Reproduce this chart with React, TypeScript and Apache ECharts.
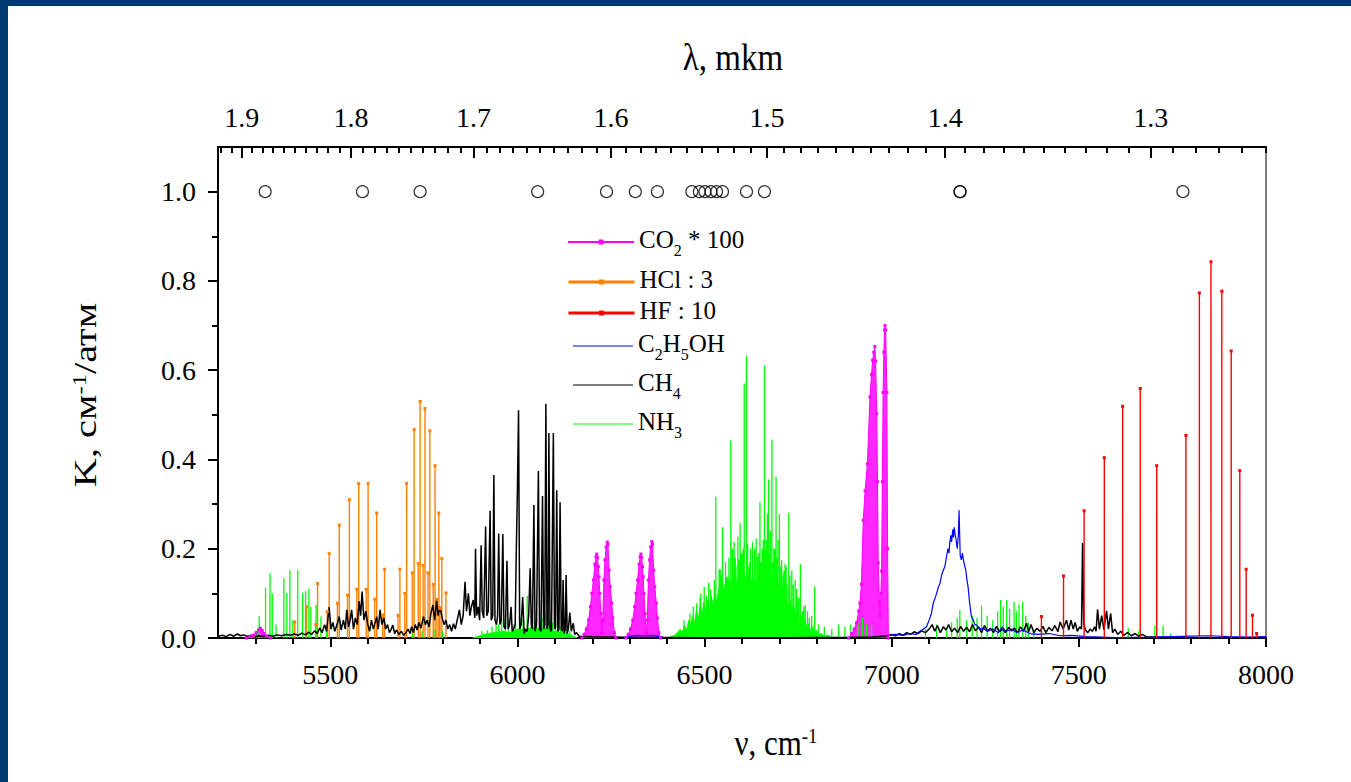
import React, { useEffect, useRef } from 'react';
import * as echarts from 'echarts';

const FONT = '"Liberation Serif", "Times New Roman", serif';

// ---- axis ticks ----
const xMajorTicks = [5500, 6000, 6500, 7000, 7500, 8000];
const xMinorTicks = [5300, 5400, 5600, 5700, 5800, 5900, 6100, 6200, 6300, 6400, 6600, 6700, 6800, 6900, 7100, 7200, 7300, 7400, 7600, 7700, 7800, 7900];
const yMajorTicks = [0, 0.2, 0.4, 0.6, 0.8, 1.0];
const yMinorTicks = [0.1, 0.3, 0.5, 0.7, 0.9];
const lambdaMajor = [1.9, 1.8, 1.7, 1.6, 1.5, 1.4, 1.3];
const lambdaMinor: number[] = [];
for (let i = 125; i <= 192; i++) if (i % 10 !== 0) lambdaMinor.push(i / 100);

// ---- data (ν, cm-1 ; K) ----
const hclLines = [
  [5405, 0.036], [5437, 0.07], [5466, 0.122], [5497, 0.189], [5524, 0.253], [5551, 0.31], [5576, 0.346],
  [5601, 0.346], [5624, 0.28], [5645, 0.154], [5686, 0.154], [5704, 0.346], [5724, 0.467], [5740, 0.53],
  [5753, 0.514], [5766, 0.464], [5780, 0.386], [5790, 0.28], [5798, 0.178], [5809, 0.101],
];
const hclIsoLines = [
  [5461, 0.03], [5492, 0.059], [5519, 0.078], [5546, 0.096], [5571, 0.109], [5596, 0.109], [5619, 0.087],
  [5640, 0.051], [5681, 0.051], [5699, 0.1], [5719, 0.146], [5735, 0.167], [5748, 0.163], [5761, 0.146],
  [5775, 0.12], [5785, 0.087], [5793, 0.066],
];
const hfLines = [
  [7400, 0.048], [7459, 0.139], [7514, 0.285], [7568, 0.404], [7617, 0.519], [7664, 0.559], [7708, 0.386],
  [7786, 0.454], [7822, 0.773], [7853, 0.843], [7882, 0.777], [7907, 0.643], [7930, 0.375], [7947, 0.154],
  [7964, 0.051], [7975, 0.01],
];
const co2Band0 = [[5275, 0], [5285, 0.003], [5295, 0.006], [5302, 0.012], [5308, 0.018], [5313, 0.022], [5318, 0.017], [5323, 0.01], [5330, 0.004], [5340, 0]];
const co2Band1 = [[6172, 0], [6178, 0.008], [6184, 0.02], [6190, 0.04], [6195, 0.07], [6199, 0.1], [6203, 0.13], [6207, 0.165], [6210, 0.182], [6212, 0.188], [6214, 0.18], [6216, 0.16], [6218, 0.137], [6220, 0.1], [6223, 0.055], [6226, 0.01], [6228, 0.04], [6231, 0.13], [6234, 0.175], [6237, 0.204], [6240, 0.215], [6242, 0.21], [6245, 0.152], [6248, 0.115], [6252, 0.078], [6255, 0.045], [6259, 0.012], [6263, 0]];
const co2Band2 = [[6290, 0], [6296, 0.008], [6302, 0.02], [6308, 0.04], [6313, 0.07], [6317, 0.1], [6321, 0.13], [6325, 0.165], [6328, 0.182], [6330, 0.188], [6332, 0.18], [6334, 0.16], [6336, 0.137], [6338, 0.1], [6341, 0.055], [6344, 0.01], [6347, 0.04], [6350, 0.13], [6353, 0.175], [6356, 0.204], [6359, 0.216], [6361, 0.21], [6364, 0.152], [6367, 0.115], [6371, 0.078], [6374, 0.045], [6378, 0.012], [6382, 0]];
const co2Band3 = [[6885, 0], [6893, 0.01], [6900, 0.02], [6906, 0.034], [6912, 0.06], [6915, 0.078], [6919, 0.12], [6924, 0.264], [6929, 0.33], [6935, 0.39], [6942, 0.54], [6946, 0.59], [6949, 0.622], [6952, 0.64], [6955, 0.653], [6957, 0.62], [6960, 0.503], [6962, 0.35], [6964, 0.168], [6967, 0.08], [6969, 0.05], [6971, 0.1], [6973, 0.15], [6975, 0.35], [6977, 0.55], [6979, 0.64], [6981, 0.69], [6982, 0.7], [6984, 0.69], [6987, 0.55], [6989, 0.2], [6991, 0]];
const c2h5ohSeg0 = [[6280, 0], [6300, 0.004], [6320, 0.006], [6340, 0.005], [6360, 0.006], [6380, 0.003], [6400, 0]];
const c2h5ohSeg1 = [
  [6990, 0.005], [7010, 0.008], [7030, 0.006], [7050, 0.01], [7065, 0.008], [7075, 0.015], [7085, 0.02], [7093, 0.025],
  [7100, 0.04], [7106, 0.055], [7111, 0.078], [7116, 0.09], [7120, 0.1], [7125, 0.115], [7129, 0.122], [7133, 0.14],
  [7137, 0.15], [7142, 0.16], [7146, 0.18], [7150, 0.2], [7153, 0.19], [7155, 0.212], [7158, 0.23], [7160, 0.215],
  [7163, 0.243], [7165, 0.225], [7167, 0.248], [7169, 0.234], [7172, 0.22], [7175, 0.2], [7178, 0.23], [7180, 0.286],
  [7181, 0.25], [7183, 0.185], [7186, 0.175], [7189, 0.19], [7191, 0.178], [7194, 0.165], [7198, 0.152], [7201, 0.13],
  [7204, 0.115], [7208, 0.08], [7213, 0.048], [7218, 0.04], [7222, 0.03], [7227, 0.029], [7235, 0.02], [7245, 0.022],
  [7255, 0.015], [7270, 0.02], [7285, 0.012], [7295, 0.025], [7305, 0.015], [7320, 0.02], [7335, 0.012], [7350, 0.018],
  [7370, 0.01], [7390, 0.008], [7420, 0.01], [7450, 0.005], [7480, 0.006], [7520, 0.003], [7560, 0.002], [7600, 0.001],
  [7700, 0.002], [7800, 0.004], [7850, 0.005], [7900, 0.003], [7950, 0.002], [8000, 0.003],
];
const ch4 = [
  [5200, 0.004], [5212, 0.006], [5222, 0.003], [5232, 0.008], [5242, 0.004], [5252, 0.009], [5260, 0.005], [5268, 0.007],
  [5278, 0.004], [5288, 0.006], [5298, 0.003], [5310, 0.005], [5322, 0.004], [5334, 0.006], [5346, 0.004], [5358, 0.007],
  [5370, 0.005], [5382, 0.008], [5394, 0.006], [5404, 0.009], [5414, 0.006], [5424, 0.011], [5434, 0.007], [5442, 0.013],
  [5450, 0.008], [5458, 0.016], [5465, 0.01], [5472, 0.022], [5478, 0.012], [5485, 0.03], [5490, 0.015], [5497, 0.069],
  [5502, 0.02], [5507, 0.035], [5512, 0.015], [5518, 0.03], [5524, 0.048], [5529, 0.018], [5535, 0.04], [5540, 0.02],
  [5544, 0.063], [5549, 0.025], [5553, 0.04], [5557, 0.063], [5562, 0.02], [5567, 0.045], [5572, 0.03], [5577, 0.083],
  [5581, 0.05], [5585, 0.104], [5590, 0.04], [5595, 0.06], [5600, 0.031], [5605, 0.015], [5610, 0.04], [5615, 0.02],
  [5620, 0.035], [5624, 0.048], [5628, 0.02], [5633, 0.063], [5638, 0.03], [5643, 0.045], [5648, 0.02], [5653, 0.03],
  [5658, 0.012], [5663, 0.02], [5667, 0.029], [5672, 0.01], [5677, 0.018], [5683, 0.008], [5690, 0.015], [5696, 0.006],
  [5702, 0.012], [5708, 0.02], [5713, 0.01], [5717, 0.025], [5722, 0.012], [5727, 0.03], [5732, 0.018], [5737, 0.035],
  [5742, 0.022], [5749, 0.048], [5754, 0.03], [5759, 0.04], [5764, 0.025], [5769, 0.055], [5774, 0.074], [5779, 0.04],
  [5784, 0.085], [5788, 0.05], [5793, 0.07], [5799, 0.045], [5804, 0.03], [5809, 0.04], [5814, 0.02], [5819, 0.03],
  [5824, 0.015], [5829, 0.032], [5834, 0.02], [5839, 0.04], [5845, 0.063], [5850, 0.03], [5855, 0.05], [5860, 0.126],
  [5864, 0.06], [5869, 0.1], [5873, 0.05], [5877, 0.07], [5882, 0.085], [5886, 0.045], [5888, 0.2], [5891, 0.05],
  [5895, 0.07], [5899, 0.04], [5903, 0.208], [5906, 0.06], [5910, 0.045], [5915, 0.25], [5918, 0.05], [5922, 0.06],
  [5927, 0.285], [5930, 0.04], [5934, 0.05], [5937, 0.365], [5940, 0.04], [5944, 0.03], [5947, 0.05], [5950, 0.234],
  [5953, 0.03], [5957, 0.04], [5961, 0.233], [5964, 0.025], [5968, 0.02], [5972, 0.173], [5975, 0.02], [5979, 0.03],
  [5983, 0.07], [5986, 0.015], [5990, 0.02], [5994, 0.03], [5997, 0.197], [6000, 0.335], [6003, 0.51], [6006, 0.02],
  [6010, 0.03], [6014, 0.092], [6018, 0.01], [6022, 0.02], [6026, 0.015], [6030, 0.05], [6034, 0.156], [6037, 0.03],
  [6040, 0.02], [6044, 0.298], [6047, 0.015], [6051, 0.03], [6056, 0.374], [6059, 0.02], [6063, 0.015], [6067, 0.318],
  [6070, 0.02], [6073, 0.03], [6076, 0.525], [6079, 0.02], [6082, 0.03], [6084, 0.459], [6087, 0.02], [6091, 0.015],
  [6096, 0.459], [6099, 0.02], [6102, 0.025], [6105, 0.331], [6108, 0.015], [6111, 0.02], [6114, 0.304], [6117, 0.02],
  [6120, 0.015], [6122, 0.13], [6125, 0.01], [6128, 0.02], [6130, 0.141], [6133, 0.01], [6136, 0.02], [6140, 0.057],
  [6144, 0.015], [6149, 0.033], [6153, 0.008], [6158, 0.012], [6165, 0.004], [6200, 0.003], [6260, 0.002], [6320, 0.001],
  [6400, 0.001], [6480, 0.0005], [6560, 0.0005], [6640, 0.0005], [6720, 0.0005], [6800, 0.001], [6880, 0.001], [6950, 0.002],
  [6990, 0.005], [7000, 0.008], [7010, 0.005], [7020, 0.01], [7030, 0.006], [7040, 0.012], [7050, 0.008], [7060, 0.014],
  [7070, 0.01], [7080, 0.016], [7090, 0.012], [7100, 0.02], [7108, 0.03], [7115, 0.015], [7122, 0.028], [7130, 0.012],
  [7138, 0.025], [7145, 0.018], [7152, 0.03], [7160, 0.014], [7168, 0.022], [7176, 0.012], [7184, 0.026], [7192, 0.015],
  [7200, 0.024], [7208, 0.014], [7216, 0.03], [7224, 0.016], [7232, 0.025], [7240, 0.012], [7248, 0.028], [7256, 0.015],
  [7264, 0.022], [7272, 0.012], [7280, 0.026], [7288, 0.014], [7296, 0.02], [7304, 0.012], [7312, 0.024], [7320, 0.016],
  [7328, 0.022], [7336, 0.012], [7344, 0.025], [7352, 0.015], [7360, 0.033], [7366, 0.014], [7372, 0.03], [7380, 0.012],
  [7388, 0.022], [7396, 0.015], [7404, 0.026], [7412, 0.012], [7420, 0.024], [7428, 0.016], [7436, 0.028], [7444, 0.014],
  [7450, 0.036], [7458, 0.02], [7467, 0.04], [7473, 0.018], [7479, 0.04], [7485, 0.02], [7490, 0.035], [7496, 0.015],
  [7502, 0.025], [7507, 0.02], [7510, 0.213], [7513, 0.03], [7518, 0.018], [7524, 0.012], [7530, 0.02], [7536, 0.015],
  [7542, 0.025], [7546, 0.015], [7550, 0.064], [7555, 0.02], [7561, 0.05], [7567, 0.018], [7574, 0.061], [7579, 0.02],
  [7585, 0.055], [7590, 0.012], [7596, 0.02], [7604, 0.008], [7612, 0.015], [7620, 0.006], [7630, 0.012], [7640, 0.005],
  [7650, 0.01], [7660, 0.004], [7670, 0.008], [7680, 0.003], [7700, 0.002], [7800, 0], [8000, 0],
];
const nh3EnvLow = [
  [5880, 0], [5900, 0.005], [5920, 0.01], [5940, 0.012], [5960, 0.015], [5980, 0.012], [6000, 0.02], [6020, 0.018],
  [6040, 0.025], [6060, 0.02], [6080, 0.022], [6100, 0.015], [6120, 0.012], [6140, 0.008], [6160, 0],
];
const nh3EnvMain = [
  [6400, 0], [6410, 0.003], [6420, 0.006], [6428, 0.012], [6435, 0.02], [6440, 0.012], [6446, 0.028], [6452, 0.018],
  [6458, 0.04], [6463, 0.025], [6468, 0.05], [6473, 0.03], [6478, 0.062], [6483, 0.04], [6488, 0.07], [6493, 0.05],
  [6498, 0.08], [6503, 0.058], [6508, 0.085], [6513, 0.062], [6518, 0.095], [6523, 0.068], [6528, 0.1], [6533, 0.075],
  [6538, 0.11], [6543, 0.085], [6548, 0.115], [6553, 0.09], [6558, 0.12], [6563, 0.095], [6568, 0.13], [6573, 0.1],
  [6578, 0.14], [6583, 0.105], [6588, 0.135], [6593, 0.11], [6598, 0.145], [6603, 0.115], [6608, 0.14], [6613, 0.12],
  [6618, 0.145], [6623, 0.11], [6628, 0.14], [6633, 0.115], [6638, 0.13], [6643, 0.105], [6648, 0.14], [6653, 0.115],
  [6658, 0.145], [6663, 0.12], [6668, 0.15], [6673, 0.115], [6678, 0.14], [6683, 0.105], [6688, 0.13], [6693, 0.095],
  [6698, 0.12], [6703, 0.085], [6708, 0.11], [6713, 0.075], [6718, 0.1], [6723, 0.065], [6728, 0.088], [6733, 0.055],
  [6738, 0.075], [6743, 0.045], [6748, 0.06], [6753, 0.035], [6758, 0.05], [6763, 0.028], [6768, 0.04], [6773, 0.022],
  [6778, 0.032], [6783, 0.016], [6788, 0.026], [6793, 0.01], [6798, 0.018], [6805, 0.007], [6812, 0.01], [6820, 0.003],
  [6830, 0.007], [6840, 0],
];
const nh3Lines = [
  [5302, 0.016], [5310, 0.049], [5327, 0.113], [5339, 0.145], [5345, 0.1], [5355, 0.03], [5376, 0.134], [5384, 0.101],
  [5392, 0.152], [5400, 0.04], [5413, 0.152], [5426, 0.101], [5434, 0.105], [5443, 0.111], [5448, 0.07], [5462, 0.074],
  [5475, 0.048], [5490, 0.025], [5720, 0.012], [5745, 0.015], [5780, 0.02], [5800, 0.015],
  [5905, 0.015], [5920, 0.018], [5932, 0.025], [5943, 0.036], [5950, 0.03], [5958, 0.04], [5968, 0.028], [5976, 0.042],
  [5989, 0.03], [5995, 0.035], [6007, 0.045], [6015, 0.04], [6026, 0.094], [6039, 0.045], [6046, 0.04], [6051, 0.05],
  [6060, 0.035], [6068, 0.045], [6074, 0.059], [6082, 0.045], [6088, 0.04], [6094, 0.035], [6102, 0.03], [6109, 0.025],
  [6115, 0.025], [6122, 0.028], [6132, 0.018], [6140, 0.015],
  [6445, 0.04], [6461, 0.055], [6470, 0.07], [6479, 0.078], [6488, 0.09], [6490, 0.1], [6499, 0.115], [6505, 0.095],
  [6511, 0.124], [6516, 0.11], [6520, 0.085], [6526, 0.13], [6530, 0.316], [6536, 0.1], [6539, 0.154], [6542, 0.154],
  [6545, 0.14], [6548, 0.248], [6553, 0.12], [6556, 0.17], [6559, 0.136], [6562, 0.136], [6565, 0.18], [6570, 0.443],
  [6574, 0.2], [6575, 0.2], [6579, 0.215], [6582, 0.18], [6584, 0.16], [6589, 0.227], [6592, 0.175], [6595, 0.257],
  [6597, 0.19], [6600, 0.19], [6603, 0.2], [6606, 0.57], [6612, 0.633], [6615, 0.21], [6618, 0.16], [6621, 0.17],
  [6623, 0.2], [6628, 0.215], [6633, 0.19], [6634, 0.2], [6638, 0.223], [6642, 0.182], [6645, 0.19], [6648, 0.304],
  [6651, 0.17], [6654, 0.2], [6657, 0.22], [6660, 0.61], [6663, 0.197], [6665, 0.22], [6668, 0.279], [6671, 0.355],
  [6674, 0.19], [6676, 0.24], [6680, 0.444], [6683, 0.17], [6685, 0.2], [6688, 0.2], [6691, 0.361], [6694, 0.18],
  [6696, 0.22], [6700, 0.277], [6703, 0.16], [6706, 0.174], [6710, 0.14], [6712, 0.15], [6715, 0.166], [6718, 0.16],
  [6720, 0.12], [6725, 0.28], [6728, 0.14], [6733, 0.151], [6737, 0.12], [6742, 0.13], [6746, 0.11], [6750, 0.09],
  [6752, 0.09], [6756, 0.166], [6762, 0.06], [6765, 0.07], [6769, 0.074], [6775, 0.06], [6780, 0.045], [6786, 0.05],
  [6794, 0.115], [6805, 0.03], [6820, 0.025], [6840, 0.02], [6858, 0.03], [6875, 0.025], [6890, 0.03], [6910, 0.035],
  [6922, 0.045], [6933, 0.03], [6946, 0.03],
  [7090, 0.02], [7120, 0.03], [7147, 0.02], [7160, 0.035], [7175, 0.045], [7182, 0.063], [7200, 0.04], [7215, 0.05],
  [7228, 0.045], [7240, 0.072], [7255, 0.05], [7270, 0.04], [7283, 0.06], [7291, 0.085], [7298, 0.07], [7307, 0.085],
  [7315, 0.065], [7327, 0.081], [7333, 0.06], [7340, 0.075], [7350, 0.081], [7358, 0.05], [7365, 0.035], [7380, 0.02],
  [7400, 0.015], [7632, 0.023], [7660, 0.015], [7703, 0.028], [7725, 0.028], [7745, 0.01],
];
const markerPositions = [5326, 5586, 5740, 6054, 6238, 6315, 6374, 6466, 6486, 6501, 6517, 6532, 6548, 6612, 6660, 7182, 7183, 7778];
const markerLevel = 1.0;

// ---- helpers building series data ----
function withBreaks(segments: number[][][]) {
  const out: any[] = [];
  segments.forEach((seg, i) => {
    if (i) out.push([seg[0][0], '-']);
    seg.forEach((p) => out.push(p));
  });
  return out;
}
function stickData(lines: number[][], capped: boolean) {
  const out: any[] = [];
  [...lines].sort((a, b) => a[0] - b[0]).forEach(([x, y]) => {
    out.push({ value: [x, 0], symbol: 'none' });
    out.push(capped ? { value: [x, y] } : { value: [x, y], symbol: 'none' });
    out.push({ value: [x, '-'], symbol: 'none' });
  });
  return out;
}

const legendRows = [
  { name: 'CO2 * 100', text: '{n|CO}{s|2}{n| * 100}', y: 242, icon: null, h: 6, lw: 2 },
  { name: 'HCl : 3', text: '{n|HCl : 3}', y: 282, icon: null, h: 6, lw: 3 },
  { name: 'HF : 10', text: '{n|HF : 10}', y: 313, icon: null, h: 6, lw: 3 },
  { name: 'C2H5OH', text: '{n|C}{s|2}{n|H}{s|5}{n|OH}', y: 346, icon: 'path://M0 0H60V1H0Z', h: 1, lw: 1 },
  { name: 'CH4', text: '{n|CH}{s|4}', y: 385, icon: 'path://M0 0H60V1H0Z', h: 1, lw: 1 },
  { name: 'NH3', text: '{n|NH}{s|3}', y: 424, icon: 'path://M0 0H60V1H0Z', h: 1, lw: 1 },
];

const richLegend = {
  n: { fontFamily: FONT, fontSize: 25, color: '#000', lineHeight: 30, verticalAlign: 'top' },
  s: { fontFamily: FONT, fontSize: 16, color: '#000', lineHeight: 16, verticalAlign: 'top', padding: [15, 0, 0, 0] },
};

function buildOption() {
  const legends = legendRows.map((r) => ({
    data: [r.icon ? { name: r.name, icon: r.icon } : { name: r.name }],
    left: r.icon ? 573 : 567,
    top: r.y - 15,
    orient: 'vertical',
    padding: 0,
    itemWidth: r.icon ? 60 : 66,
    itemHeight: r.h,
    selectedMode: false,
    lineStyle: { width: r.lw },
    formatter: () => r.text,
    textStyle: { fontFamily: FONT, fontSize: 25, color: '#000', rich: richLegend },
  }));

  const tickLabel = { fontFamily: FONT, fontSize: 28, color: '#000' };
  const axisLine = { show: true, lineStyle: { color: '#000', width: 2 } };
  const titleRich = {
    n: { fontFamily: FONT, fontSize: 31, color: '#000', lineHeight: 35, verticalAlign: 'top' },
    p: { fontFamily: FONT, fontSize: 19, color: '#000', lineHeight: 19, verticalAlign: 'top' },
  };

  return {
    animation: false,
    textStyle: { fontFamily: FONT },
    grid: { left: 218, right: 85, top: 147, bottom: 144, show: true, borderColor: '#000', borderWidth: 1, backgroundColor: 'transparent' },
    legend: legends,
    xAxis: [
      {
        type: 'value', position: 'bottom', min: 5200, max: 8000,
        axisLine, splitLine: { show: false },
        axisTick: { show: true, customValues: xMajorTicks, length: 9, lineStyle: { color: '#000', width: 2 } },
        axisLabel: { customValues: xMajorTicks, margin: 22, formatter: (v: number) => String(v), ...tickLabel },
      },
      {
        type: 'value', position: 'bottom', min: 5200, max: 8000,
        axisLine: { show: false }, splitLine: { show: false },
        axisTick: { show: true, customValues: xMinorTicks, length: 6, lineStyle: { color: '#000', width: 2 } },
        axisLabel: { show: false },
      },
      {
        type: 'value', position: 'top', min: 5200, max: 8000,
        axisLine, splitLine: { show: false },
        axisTick: { show: true, inside: true, customValues: lambdaMajor.map((l) => 10000 / l), length: 11, lineStyle: { color: '#000', width: 2 } },
        axisLabel: { customValues: lambdaMajor.map((l) => 10000 / l), margin: 16, formatter: (v: number) => (10000 / v).toFixed(1), ...tickLabel },
      },
      {
        type: 'value', position: 'top', min: 5200, max: 8000,
        axisLine: { show: false }, splitLine: { show: false },
        axisTick: { show: true, inside: true, customValues: lambdaMinor.map((l) => 10000 / l), length: 6, lineStyle: { color: '#000', width: 2 } },
        axisLabel: { show: false },
      },
    ],
    yAxis: [
      {
        type: 'value', position: 'left', min: 0, max: 1.1,
        axisLine, splitLine: { show: false },
        axisTick: { show: true, customValues: yMajorTicks, length: 10, lineStyle: { color: '#000', width: 2 } },
        axisLabel: { customValues: yMajorTicks, margin: 22, formatter: (v: number) => v.toFixed(1), ...tickLabel },
      },
      {
        type: 'value', position: 'left', min: 0, max: 1.1,
        axisLine: { show: false }, splitLine: { show: false },
        axisTick: { show: true, customValues: yMinorTicks, length: 6, lineStyle: { color: '#000', width: 2 } },
        axisLabel: { show: false },
      },
    ],
    graphic: [
      { type: 'text', x: 733, y: 57, scaleY: 1.15, style: { text: 'λ, mkm', font: `33px ${FONT}`, fill: '#000', textAlign: 'center', textVerticalAlign: 'middle' } },
      {
        type: 'text', x: 776, y: 745, scaleY: 1.15,
        style: { text: '{n|ν, cm}{p|-1}', textAlign: 'center', textVerticalAlign: 'middle', rich: titleRich },
      },
      {
        type: 'text', x: 88, y: 395, rotation: Math.PI / 2, scaleX: 1.3,
        style: { text: '{n|K, см}{p|-1}{n|/атм}', textAlign: 'center', textVerticalAlign: 'middle', rich: titleRich },
      },
    ],
    series: [
      {
        name: 'HCl : 3', type: 'line', symbol: 'rect', symbolSize: 3, showSymbol: true,
        data: stickData([...hclLines, ...hclIsoLines], true),
        lineStyle: { color: '#ff8000', width: 1.4 }, itemStyle: { color: '#ff8000' },
      },
      {
        name: 'NH3', type: 'line', symbol: 'none',
        data: withBreaks([nh3EnvLow, nh3EnvMain]),
        lineStyle: { color: '#00ff00', width: 1 }, itemStyle: { color: '#00ff00' },
        areaStyle: { color: '#00ff00', opacity: 1 },
      },
      {
        name: 'NH3', type: 'line', symbol: 'none',
        data: stickData(nh3Lines, false),
        lineStyle: { color: '#00ff00', width: 1.3 }, itemStyle: { color: '#00ff00' },
      },
      {
        name: 'CH4', type: 'line', symbol: 'none', data: ch4,
        lineStyle: { color: '#000', width: 1.5 }, itemStyle: { color: '#000' },
      },
      {
        name: 'C2H5OH', type: 'line', symbol: 'none', data: withBreaks([c2h5ohSeg0, c2h5ohSeg1]),
        lineStyle: { color: '#0000ff', width: 1.2 }, itemStyle: { color: '#0000ff' },
      },
      {
        name: 'HF : 10', type: 'line', symbol: 'rect', symbolSize: 3, showSymbol: true,
        data: stickData(hfLines, true),
        lineStyle: { color: '#ff0000', width: 1.4 }, itemStyle: { color: '#ff0000' },
      },
      {
        name: 'CO2 * 100', type: 'line', symbol: 'rect', symbolSize: 3, showSymbol: true,
        data: withBreaks([co2Band0, co2Band1, co2Band2, co2Band3]),
        lineStyle: { color: '#ff00ff', width: 1 }, itemStyle: { color: '#ff00ff' },
        areaStyle: { color: '#ff00ff', opacity: 0.85 },
      },
      {
        name: 'markers', type: 'scatter', symbol: 'circle', symbolSize: 12,
        data: markerPositions.map((x) => [x, markerLevel]),
        itemStyle: { color: 'rgba(0,0,0,0)', borderColor: '#000', borderWidth: 1.2 },
      },
    ],
  };
}

export default function App() {
  const ref = useRef<HTMLDivElement>(null);
  useEffect(() => {
    const chart = echarts.init(ref.current!, null, { renderer: 'svg' });
    chart.setOption(buildOption() as any);
    return () => chart.dispose();
  }, []);
  return (
    <div style={{ position: 'fixed', left: 0, top: 0, width: 1351, height: 782, background: '#003a70', overflow: 'hidden' }}>
      <div style={{ position: 'absolute', left: 8, top: 6, right: 0, bottom: 0, background: '#ffffff' }} />
      <div ref={ref} style={{ position: 'absolute', left: 0, top: 0, width: 1351, height: 782 }} />
    </div>
  );
}
